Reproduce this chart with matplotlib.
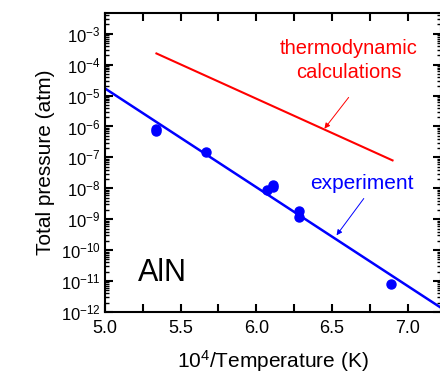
import numpy as np
import matplotlib
matplotlib.use('Agg')
from matplotlib import pyplot as plt
from matplotlib.ticker import FixedLocator, LogLocator, FuncFormatter, NullFormatter

plt.rcParams['font.family'] = ['Liberation Sans', 'DejaVu Sans']
plt.rcParams['mathtext.default'] = 'regular'

# experiment points (10^4/T, pressure atm)
exp_x = [5.34, 5.34, 5.67, 6.07, 6.11, 6.11, 6.28, 6.28, 6.89]
exp_y = [8.5e-7, 7.0e-7, 1.45e-7, 8.5e-9, 1.1e-8, 1.3e-8, 1.8e-9, 1.2e-9, 8.0e-12]

# fitted line for experiment
fit_x = [5.0, 7.25]
fit_y = [1.7e-5, 1.1e-12]

# thermodynamic calculations
calc_x = [5.34, 6.90]
calc_y = [2.3e-4, 8.0e-8]

fig = plt.figure(figsize=(4.4, 3.79), dpi=100)
ax = fig.add_axes([0.2386, 0.1768, 0.7636, 0.7889])

ax.plot(calc_x, calc_y, color='#ff0000', lw=1.5)
ax.plot(fit_x, fit_y, color='#0000ff', lw=1.8)
ax.plot(exp_x, exp_y, 'o', color='#0000ff', ms=6.5, mec='#0000ff')

ax.set_yscale('log')
ax.set_xlim(5.0, 7.22)
ax.set_ylim(1e-12, 10 ** -2.33)

ax.xaxis.set_major_locator(FixedLocator([5.0, 5.5, 6.0, 6.5, 7.0]))
ax.xaxis.set_minor_locator(FixedLocator([5.25, 5.75, 6.25, 6.75, 7.25]))
ax.xaxis.set_major_formatter(FuncFormatter(lambda v, p: f'{v:.1f}'))

ax.yaxis.set_major_locator(LogLocator(base=10, numticks=20))
ax.yaxis.set_minor_locator(LogLocator(base=10, subs=np.arange(2, 10), numticks=20))
ax.yaxis.set_minor_formatter(NullFormatter())
ax.yaxis.set_major_formatter(FuncFormatter(
    lambda v, p: '$10^{%d}$' % int(round(np.log10(v)))))

ax.tick_params(which='both', direction='in', top=True, right=True)
ax.tick_params(which='major', length=6, width=1.5)
ax.tick_params(axis='x', which='minor', length=6, width=1.5)
ax.tick_params(axis='y', which='minor', length=3, width=1)
ax.tick_params(axis='x', labelsize=13, pad=6)
ax.tick_params(axis='y', labelsize=12, pad=3)
for s in ax.spines.values():
    s.set_linewidth(1.5)

ax.set_xlabel('$10^4$/Temperature (K)', fontsize=15, labelpad=8)
ax.set_ylabel('Total pressure (atm)', fontsize=15, labelpad=4)

ax.text(5.22, 10 ** -11.0, 'AlN', fontsize=22, ha='left', va='baseline')

# labels and arrows
ax.text(6.61, 10 ** -3.86, 'thermodynamic\ncalculations', color='#ff0000',
        fontsize=14.5, ha='center', va='center', linespacing=1.3)
ax.annotate('', xy=(6.45, 10 ** -6.07), xytext=(6.61, 10 ** -5.06),
            arrowprops=dict(arrowstyle='-|>', color='#ff0000', lw=0.7,
                            mutation_scale=8, shrinkA=0, shrinkB=0))
ax.text(6.70, 10 ** -7.84, 'experiment', color='#0000ff', fontsize=15,
        ha='center', va='center')
ax.annotate('', xy=(6.53, 10 ** -9.52), xytext=(6.71, 10 ** -8.33),
            arrowprops=dict(arrowstyle='-|>', color='#0000ff', lw=0.7,
                            mutation_scale=8, shrinkA=0, shrinkB=0))

fig.savefig('out.png', dpi=100)
